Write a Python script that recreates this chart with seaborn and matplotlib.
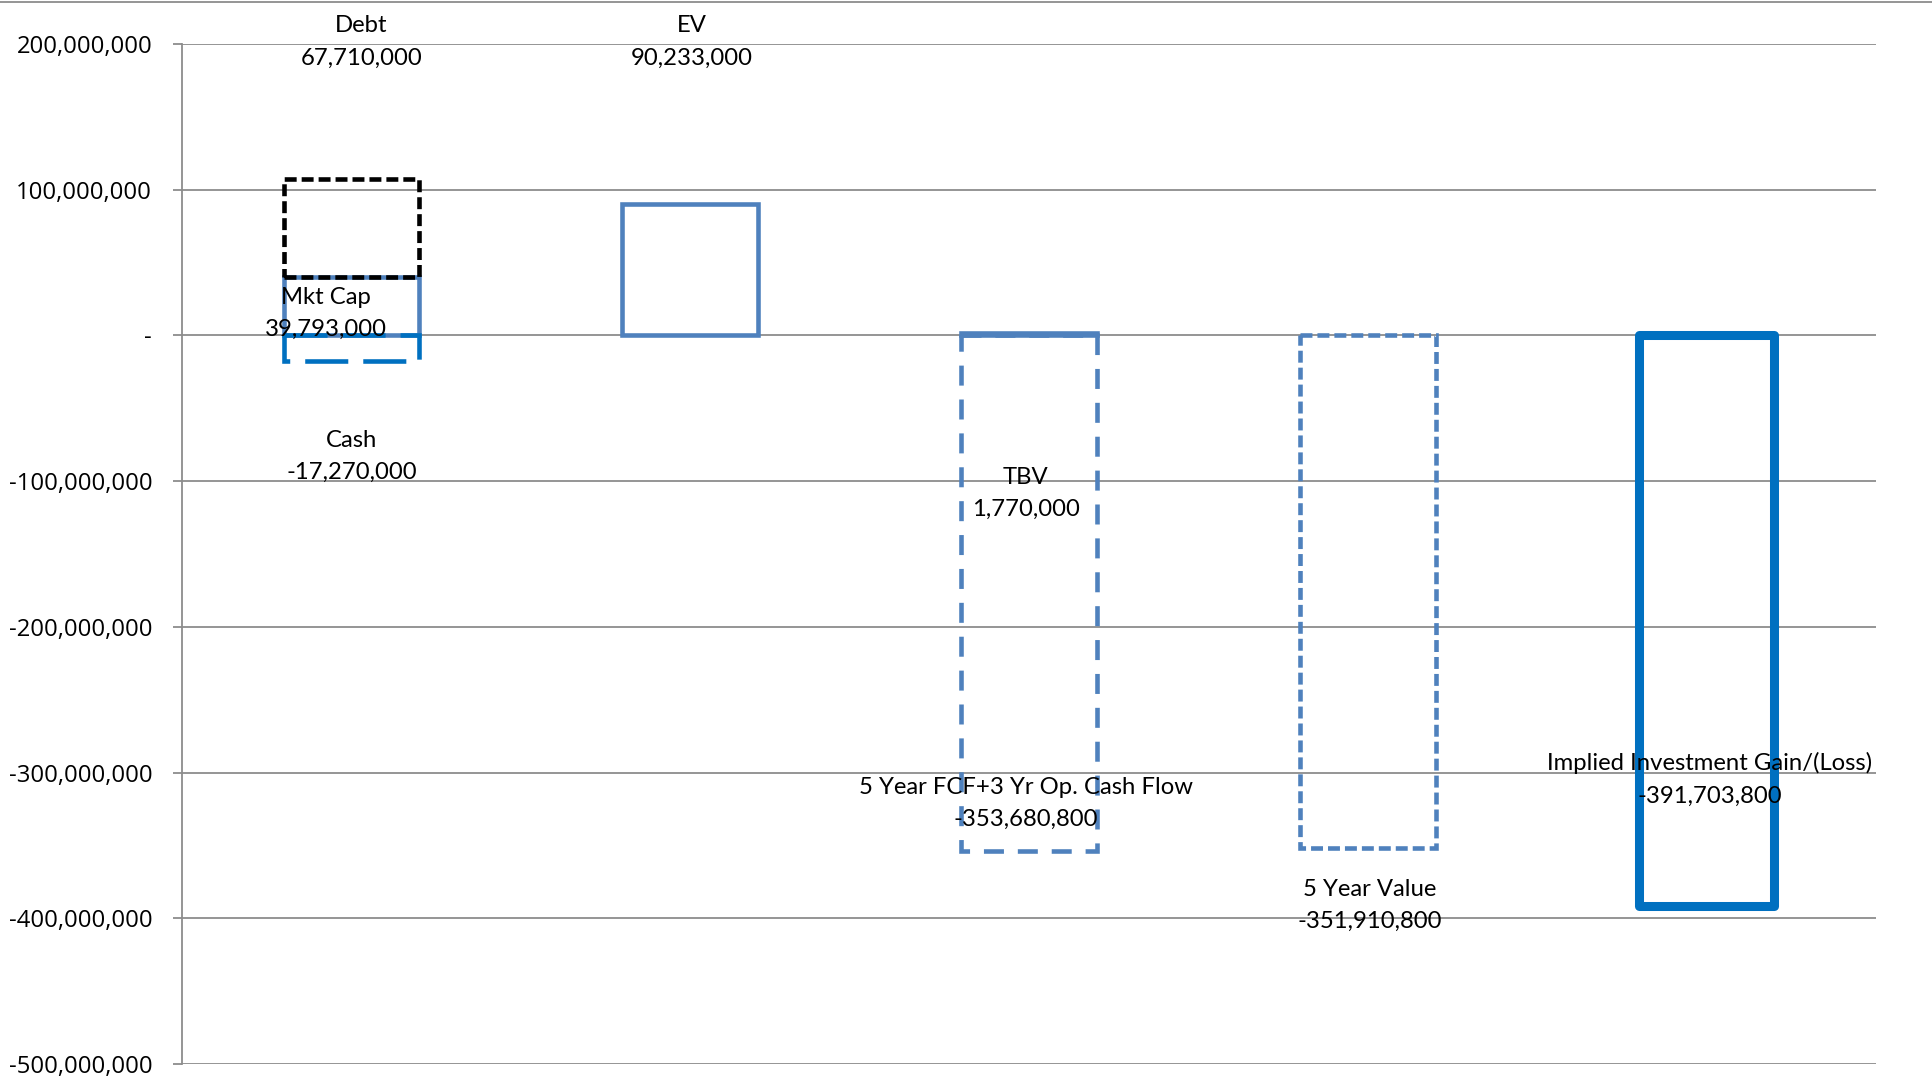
import matplotlib
matplotlib.use("Agg")
import matplotlib.pyplot as plt
import matplotlib.ticker as mticker
from matplotlib.lines import Line2D
import seaborn as sns
import pandas as pd

# ---------------- data ----------------
categories = ["Mkt Cap", "EV", "TBV", "5 Year Value", "Implied Investment Gain/(Loss)"]

series_names = ["Mkt Cap", "Debt", "Cash", "EV", "TBV",
                "5 Year FCF+3 Yr Op. Cash Flow", "5 Year Value",
                "Implied Investment Gain/(Loss)"]
series_values = [39793000, 67710000, -17270000, 90233000, 1770000,
                 -353680800, -351910800, -391703800]
series_category = ["Mkt Cap", "Mkt Cap", "Mkt Cap", "EV", "TBV",
                   "TBV", "5 Year Value", "Implied Investment Gain/(Loss)"]
series_stacked_on = [None, "Mkt Cap", None, None, None, None, None, None]

y_ticks = [200e6, 100e6, 0, -100e6, -200e6, -300e6, -400e6, -500e6]

# ---------------- styles (not data) ----------------
BLUE = "#4F81BD"
BRIGHT = "#0070C0"
styles = {
    "Mkt Cap": dict(color=BLUE, lw=3.3, dash=None),
    "Debt": dict(color="black", lw=3.3, dash=(8.6, 3.6)),
    "Cash": dict(color=BRIGHT, lw=3.3, dash=(31.0, 10.8)),
    "EV": dict(color=BLUE, lw=3.3, dash=None),
    "TBV": dict(color=BLUE, lw=3.3, dash=None),
    "5 Year FCF+3 Yr Op. Cash Flow": dict(color=BLUE, lw=3.3, dash=(14.4, 10.0)),
    "5 Year Value": dict(color=BLUE, lw=3.3, dash=(8.6, 3.6)),
    "Implied Investment Gain/(Loss)": dict(color=BRIGHT, lw=6.5, dash=None),
}
# label anchor offsets (x in category units relative to the category, y in data units)
label_pos = {
    "Mkt Cap": (-0.074, 15.2e6),
    "Debt": (0.03, 201.5e6),
    "Cash": (0.0, -83.0e6),
    "EV": (0.004, 201.5e6),
    "TBV": (-0.01, -108.4e6),
    "5 Year FCF+3 Yr Op. Cash Flow": (-0.01, -321.1e6),
    "5 Year Value": (0.006, -391.2e6),
    "Implied Investment Gain/(Loss)": (0.01, -304.7e6),
}

df = pd.DataFrame({"series": series_names, "category": series_category,
                   "value": series_values, "stacked_on": series_stacked_on})
val_of = dict(zip(series_names, series_values))
df["bottom"] = [0 if s is None else val_of[s] for s in series_stacked_on]

# ---------------- figure ----------------
sns.set_theme(style="white")
plt.rcParams["lines.scale_dashes"] = False
plt.rcParams["font.family"] = ["Open Sans", "DejaVu Sans"]

fig = plt.figure(figsize=(19.32, 10.78), dpi=100)
ax = fig.add_axes([182 / 1932, 1 - 1064 / 1078, (1876 - 182) / 1932, (1064 - 44) / 1078])

GRID = "#8c8c8c"
for t in y_ticks:
    ax.axhline(t, color=GRID, lw=1.3, zorder=0)

for _, row in df.iterrows():
    st = styles[row["series"]]
    before = len(ax.patches)
    sns.barplot(x=[row["category"]], y=[row["value"]], order=categories,
                width=0.4, fill=False, color=st["color"], errorbar=None,
                linewidth=st["lw"], bottom=row["bottom"], ax=ax, zorder=3)
    for p in ax.patches[before:]:
        if st["dash"] is not None:
            p.set_linestyle((0, st["dash"]))
        if row["series"] == "Implied Investment Gain/(Loss)":
            p.set_joinstyle("round")
        else:
            p.set_joinstyle("miter")

cat_index = {c: i for i, c in enumerate(categories)}
for name, cat, val in zip(series_names, series_category, series_values):
    dx, y = label_pos[name]
    ax.text(cat_index[cat] + dx, y, f"{name}\n{val:,.0f}", ha="center", va="center",
            fontsize=17.2, family=["Lato", "DejaVu Sans"], color="black",
            linespacing=1.68, zorder=5, clip_on=False)

ax.set_xlim(-0.5, len(categories) - 0.5)
ax.set_ylim(-500e6, 200e6)
ax.set_yticks(y_ticks)
ax.yaxis.set_major_formatter(mticker.FuncFormatter(
    lambda v, pos: "-" if abs(v) < 1 else f"{v:,.0f}"))
ax.tick_params(axis="y", which="major", left=True, length=6.5, width=1.3,
               color=GRID, pad=15, labelsize=17.2, labelcolor="black")
ax.tick_params(axis="x", bottom=False, labelbottom=False)
ax.set_xlabel("")
ax.set_ylabel("")
for s in ["top", "right", "bottom"]:
    ax.spines[s].set_visible(False)
ax.spines["left"].set_color(GRID)
ax.spines["left"].set_linewidth(1.3)
ax.grid(False)

fig.add_artist(Line2D([0, 1], [1 - 2 / 1078, 1 - 2 / 1078], transform=fig.transFigure,
                      color=GRID, lw=1.3))

fig.savefig("out.png", dpi=100)
